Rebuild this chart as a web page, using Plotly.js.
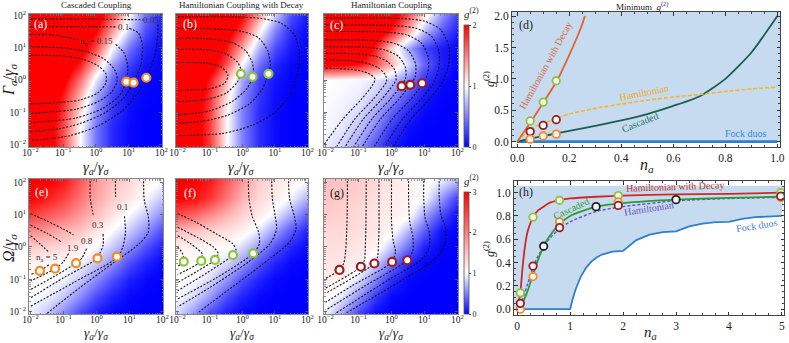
<!DOCTYPE html>
<html>
<head>
<meta charset="utf-8">
<script src="https://cdn.plot.ly/plotly-3.0.1.min.js"></script>
<style>body{margin:0;background:#fff}#fig{width:789px;height:343px}</style>
</head>
<body>
<div id="fig"></div>
<script>
// ---- data (map coordinates are log10 of gamma_a/gamma_sigma and P/gamma_sigma, Omega/gamma_sigma) ----
const gridLog = [-2, -1.5, -1, -0.5, 0, 0.5, 1, 1.5, 2];

// g2 maps, rows from 10^-2 (bottom) to 10^2 (top)
const zCascadedP = [
  [2.4, 2.2, 1.7, 1.0, 0.45, 0.15, 0.03, 0, 0],
  [2.4, 2.2, 1.7, 1.0, 0.45, 0.15, 0.03, 0, 0],
  [2.4, 2.25, 1.8, 1.15, 0.55, 0.2, 0.05, 0, 0],
  [2.4, 2.3, 1.9, 1.3, 0.65, 0.25, 0.07, 0.01, 0],
  [2.4, 2.4, 2.1, 1.55, 0.9, 0.4, 0.12, 0.02, 0],
  [2.4, 2.4, 2.3, 1.9, 1.3, 0.65, 0.25, 0.07, 0.01],
  [2.4, 2.4, 2.4, 2.2, 1.7, 1.0, 0.45, 0.15, 0.03],
  [2.4, 2.4, 2.4, 2.3, 2.0, 1.4, 0.8, 0.3, 0.1],
  [2.4, 2.4, 2.4, 2.4, 2.2, 1.7, 1.0, 0.45, 0.15]
];
const zDecayP = [
  [2.4, 2.2, 1.75, 1.05, 0.5, 0.17, 0.04, 0, 0],
  [2.4, 2.2, 1.75, 1.05, 0.5, 0.17, 0.04, 0, 0],
  [2.4, 2.2, 1.75, 1.05, 0.5, 0.17, 0.04, 0, 0],
  [2.4, 2.25, 1.8, 1.15, 0.55, 0.2, 0.05, 0, 0],
  [2.4, 2.3, 1.9, 1.3, 0.65, 0.25, 0.07, 0.01, 0],
  [2.4, 2.4, 2.2, 1.7, 1.0, 0.45, 0.15, 0.03, 0],
  [2.4, 2.4, 2.3, 1.95, 1.35, 0.7, 0.3, 0.09, 0.015],
  [2.4, 2.4, 2.4, 2.2, 1.75, 1.05, 0.5, 0.17, 0.04],
  [2.4, 2.4, 2.4, 2.3, 2.0, 1.4, 0.8, 0.3, 0.1]
];
const zHamP = [
  [0.93, 0.82, 0.62, 0.32, 0.1, 0.01, 0, 0, 0],
  [0.97, 0.9, 0.75, 0.5, 0.2, 0.05, 0, 0, 0],
  [0.98, 0.94, 0.85, 0.65, 0.38, 0.14, 0.03, 0, 0],
  [0.99, 0.97, 0.92, 0.8, 0.58, 0.3, 0.09, 0.01, 0],
  [1.0, 0.99, 0.97, 0.9, 0.75, 0.5, 0.2, 0.05, 0],
  [2.1, 2.05, 1.95, 1.7, 1.3, 0.85, 0.4, 0.12, 0.02],
  [2.4, 2.4, 2.3, 1.9, 1.2, 0.65, 0.28, 0.1, 0.03],
  [2.4, 2.4, 2.4, 2.3, 1.9, 1.35, 0.75, 0.35, 0.12],
  [2.4, 2.4, 2.4, 2.4, 2.2, 1.7, 1.1, 0.6, 0.25]
];
const zCascadedO = [
  [0.95, 0.78, 0.55, 0.3, 0.12, 0.03, 0, 0, 0],
  [1.0, 0.95, 0.78, 0.55, 0.3, 0.12, 0.03, 0, 0],
  [1.05, 1.0, 0.95, 0.78, 0.55, 0.3, 0.12, 0.03, 0],
  [1.1, 1.05, 1.0, 0.95, 0.78, 0.55, 0.3, 0.12, 0.03],
  [1.4, 1.35, 1.3, 1.15, 0.97, 0.78, 0.55, 0.3, 0.12],
  [1.9, 1.8, 1.6, 1.45, 1.2, 0.97, 0.78, 0.55, 0.3],
  [2.5, 2.3, 2.1, 1.8, 1.5, 1.2, 0.97, 0.78, 0.55],
  [3.0, 2.8, 2.5, 2.1, 1.7, 1.4, 1.2, 0.97, 0.78],
  [3.0, 3.0, 2.8, 2.3, 1.8, 1.5, 1.3, 1.1, 0.97]
];
const zDecayO = [
  [0.85, 0.6, 0.31, 0.13, 0.03, 0, 0, 0, 0],
  [1.0, 0.85, 0.6, 0.31, 0.13, 0.03, 0, 0, 0],
  [1.0, 1.0, 0.85, 0.6, 0.31, 0.13, 0.03, 0, 0],
  [1.0, 1.0, 1.0, 0.85, 0.6, 0.31, 0.13, 0.03, 0],
  [1.1, 1.1, 1.05, 1.02, 0.85, 0.6, 0.31, 0.13, 0.03],
  [1.5, 1.45, 1.35, 1.25, 1.1, 0.88, 0.61, 0.33, 0.14],
  [2.4, 2.2, 1.9, 1.6, 1.35, 1.15, 0.91, 0.65, 0.37],
  [3.0, 2.9, 2.6, 2.1, 1.6, 1.3, 1.15, 0.95, 0.7],
  [3.0, 3.0, 2.8, 2.3, 1.8, 1.4, 1.2, 1.1, 0.97]
];
const zHamO = [
  [0.97, 0.65, 0.28, 0.05, 0, 0, 0, 0, 0],
  [1.05, 0.9, 0.57, 0.22, 0.03, 0, 0, 0, 0],
  [1.15, 1.1, 0.87, 0.53, 0.18, 0.03, 0, 0, 0],
  [1.2, 1.2, 1.1, 0.82, 0.46, 0.13, 0.02, 0, 0],
  [1.25, 1.25, 1.2, 1.1, 0.78, 0.43, 0.12, 0.01, 0],
  [1.3, 1.3, 1.25, 1.2, 1.05, 0.71, 0.36, 0.06, 0],
  [1.4, 1.35, 1.3, 1.2, 1.15, 1.05, 0.64, 0.29, 0.05],
  [1.45, 1.4, 1.35, 1.25, 1.15, 1.1, 1.0, 0.6, 0.25],
  [1.5, 1.45, 1.4, 1.3, 1.2, 1.1, 1.05, 0.9, 0.7]
];

// n_a contour lines [log10 x, log10 y], null = gap for a label
const contoursA = [
  [[-2,1.89],[-1,1.89],[0,1.88],[0.8,1.87],[1.45,1.86],null,[1.9,1.72],[1.88,1.3],[1.8,0.75],[1.54,0.07],[1.25,-0.45],[0.8,-0.95],[0.1,-1.4],[-0.8,-1.72],[-2,-1.87]],
  [[-2,1.65],[-1,1.65],[0,1.65],[0.65,1.64],null,[1.02,1.6],[1.3,1.45],[1.42,1.1],[1.38,0.5],[1.15,-0.08],[0.85,-0.55],[0.3,-1.0],[-0.5,-1.35],[-1.2,-1.52],[-2,-1.6]],
  [[-2,1.41],[-1.2,1.38],[-0.55,1.25],null,[0.6,1.1],[0.85,0.85],[0.97,0.45],[0.93,-0.05],[0.7,-0.5],[0.2,-0.88],[-0.6,-1.17],[-2,-1.32]],
  [[-2,1.03],[-1,0.99],[-0.3,0.88],[0.25,0.65],[0.58,0.3],[0.65,0.0],[0.5,-0.35],[0.1,-0.65],[-0.6,-0.9],[-2,-1.03]],
  [[-2,0.77],[-1,0.74],[-0.4,0.64],[0.05,0.45],[0.3,0.2],[0.3,-0.1],[0.05,-0.4],[-0.5,-0.62],[-2,-0.74]]
];
const contoursB = [
  [[-2,1.95],[-0.5,1.95],[0.6,1.9],[1.2,1.75],[1.6,1.4],[1.75,0.9],[1.72,0.3],[1.5,-0.4],[1.0,-1.0],[0.3,-1.4],[-0.6,-1.65],[-2,-1.72]],
  [[-2,1.6],[-0.8,1.58],[0,1.5],[0.5,1.3],[0.78,0.9],[0.86,0.45],[0.8,0.19],[0.6,-0.3],[0.2,-0.75],[-0.5,-1.1],[-1.2,-1.27],[-2,-1.34]],
  [[-2,1.29],[-1,1.27],[-0.3,1.15],[0.1,0.9],[0.3,0.55],[0.34,0.25],[0.31,0.1],[0.15,-0.25],[-0.3,-0.65],[-1.0,-0.95],[-2,-1.08]],
  [[-2,0.95],[-1,0.93],[-0.5,0.8],[-0.15,0.55],[-0.04,0.3],[-0.05,0.19],[-0.15,-0.05],[-0.5,-0.4],[-1.1,-0.6],[-2,-0.67]],
  [[-2,0.54],[-1.1,0.52],[-0.65,0.4],[-0.45,0.15],[-0.55,-0.1],[-1.0,-0.27],[-2,-0.31]]
];
const contoursC = [
  [[-2,1.91],[0.3,1.9],[1.0,1.82],[1.5,1.55],[1.75,1.0],[1.72,0.4],[1.5,-0.15],[1.15,-0.6],[0.6,-1.2],[0.05,-2.05]],
  [[-2,1.7],[0.1,1.68],[0.75,1.6],[1.22,1.35],[1.45,0.85],[1.42,0.3],[1.24,-0.15],[0.89,-0.6],[0.34,-1.2],[-0.21,-2.05]],
  [[-2,1.5],[-0.2,1.48],[0.45,1.4],[0.9,1.15],[1.12,0.7],[1.1,0.2],[0.93,-0.15],[0.58,-0.6],[0.03,-1.2],[-0.52,-2.05]],
  [[-2,1.24],[-0.5,1.22],[0.1,1.13],[0.52,0.9],[0.73,0.5],[0.72,0.1],[0.57,-0.15],[0.22,-0.6],[-0.33,-1.2],[-0.88,-2.05]],
  [[-2,1.03],[-0.8,1.01],[-0.2,0.93],[0.22,0.72],[0.42,0.4],[0.43,0.05],[0.31,-0.15],[-0.04,-0.6],[-0.59,-1.2],[-1.14,-2.05]],
  [[-2,0.83],[-1.1,0.81],[-0.5,0.74],[-0.1,0.55],[0.1,0.3],[0.14,0.0],[0.05,-0.15],[-0.3,-0.6],[-0.85,-1.2],[-1.4,-2.05]],
  [[-2,0.62],[-1.3,0.6],[-0.8,0.53],[-0.4,0.38],[-0.18,0.15],[-0.15,-0.05],[-0.21,-0.15],[-0.56,-0.6],[-1.11,-1.2],[-1.66,-2.05]],
  [[-2,0.36],[-1.5,0.35],[-1.0,0.3],[-0.65,0.18],[-0.5,0.03],[-0.57,-0.15],[-0.92,-0.6],[-1.47,-1.2],[-2.05,-2.0]]
];
const contoursE = [
  [[1.43,2.15],[1.45,1.45],[1.58,0.9],[1.57,0.45],[1.3,0.1],[0.5,-0.5],[-0.5,-1.25],[-1.5,-2.05]],
  [[0.57,2.15],[0.58,1.55],null,[0.85,0.95],[0.88,0.45],[0.8,0.0],[0.64,-0.32],[-0.7,-1.1],[-2,-1.83]],
  [[-0.19,2.15],[-0.19,1.5],[-0.1,1.0],null,[0.2,0.4],[0.2,0.05],[0.1,-0.2],[0.03,-0.35],[-1,-0.95],[-2,-1.57]],
  [[-2,1.03],[-1.5,0.8],[-1.0,0.55],[-0.7,0.38],null,[-0.3,-0.05],[-0.45,-0.35],[-0.62,-0.5],[-1.3,-0.92],[-2,-1.31]],
  [[-2,0.67],[-1.5,0.42],[-1.05,0.15],null,[-0.85,-0.2],[-1.0,-0.45],[-1.26,-0.67],[-2,-1.05]],
  [[-2,0.35],[-1.7,0.08],[-1.45,-0.15],null,[-1.45,-0.55],[-1.72,-0.74],[-2,-0.85]]
];
const contoursF = [
  [[1.42,2.15],[1.45,1.5],[1.6,0.95],[1.65,0.55],[1.45,0.15],[0.6,-0.55],[-0.6,-1.45],[-1.4,-2.05]],
  [[0.9,2.15],[0.92,1.5],[1.0,1.0],[1.05,0.55],[0.85,0.1],[0.2,-0.45],[-1.0,-1.25],[-2,-1.85]],
  [[0.18,2.15],[0.2,1.5],[0.3,0.95],[0.5,0.45],[0.52,0.1],[0.33,-0.2],[-0.8,-0.95],[-2,-1.6]],
  [[-2,1.03],[-1.4,0.75],[-0.8,0.4],[-0.3,0.1],[-0.2,-0.1],[-0.29,-0.25],[-1.1,-0.8],[-2,-1.35]],
  [[-2,0.61],[-1.4,0.3],[-0.9,0.0],[-0.75,-0.2],[-0.85,-0.4],[-1.4,-0.75],[-2,-1.1]],
  [[-2,0.35],[-1.6,0.1],[-1.25,-0.2],[-1.27,-0.43],[-1.6,-0.65],[-2,-0.85]],
  [[-2,0.0],[-1.85,-0.2],[-1.81,-0.45],[-2,-0.6]]
];
const contoursG = [
  [[-1.34,2.15],[-1.34,1.5],[-1.36,0.5],[-1.4,-0.2],[-1.45,-0.5],[-1.58,-0.71],[-2,-0.97]],
  [[-0.77,2.15],[-0.77,1.5],[-0.78,0.5],[-0.8,-0.1],[-0.82,-0.4],[-0.93,-0.61],[-2,-1.27]],
  [[-0.38,2.15],[-0.38,1.5],[-0.38,0.5],[-0.4,0.0],[-0.42,-0.3],[-0.52,-0.51],[-2,-1.43]],
  [[0,2.15],[0,1.5],[0.0,0.8],[0.05,0.2],[0.12,-0.15],[0.02,-0.46],[-1.2,-1.2],[-2,-1.71]],
  [[0.52,2.15],[0.52,1.5],[0.55,0.8],[0.65,0.3],[0.65,-0.1],[0.48,-0.41],[-0.8,-1.2],[-2,-1.95]],
  [[0.98,2.15],[0.98,1.5],[1.02,0.9],[1.15,0.45],[1.15,0.0],[0.9,-0.4],[-0.1,-1.02],[-1.7,-2.05]],
  [[1.45,2.15],[1.45,1.5],[1.5,1.0],[1.65,0.55],[1.62,0.1],[1.35,-0.35],[0.45,-0.95],[-1.4,-2.05]]
];

// optimum points on the maps
const markA = [[0.93,-0.05],[1.15,-0.08],[1.54,0.07]];
const markB = [[-0.05,0.19],[0.31,0.1],[0.8,0.19]];
const markC = [[0.31,-0.19],[0.57,-0.15],[0.93,-0.1]];
const markE = [[-1.72,-0.74],[-1.26,-0.67],[-0.62,-0.5],[0.03,-0.35],[0.62,-0.3]];
const markF = [[-1.81,-0.45],[-1.27,-0.43],[-0.85,-0.4],[-0.29,-0.25],[0.33,-0.2]];
const markG = [[-1.58,-0.71],[-0.93,-0.61],[-0.52,-0.51],[0.02,-0.46],[0.48,-0.41]];

// panel (d): minimum g2 versus n_a
const nD = [0, 0.05, 0.1, 0.15, 0.2, 0.3, 0.4, 0.5, 0.6, 0.7, 0.8, 0.9, 1.0];
const cascadedD = [0, 0.05, 0.09, 0.13, 0.17, 0.25, 0.34, 0.44, 0.57, 0.72, 1.0, 1.42, 2.0];
const hamiltonianD = [0, 0.2, 0.29, 0.37, 0.44, 0.53, 0.6, 0.66, 0.71, 0.75, 0.8, 0.84, 0.87];
const nDecayD = [0, 0.05, 0.1, 0.15, 0.2, 0.25, 0.26];
const decayD = [0, 0.3, 0.62, 0.95, 1.38, 1.87, 2.0];
const fockDN = [0, 1];
const fockDG = [0, 0];
const markDN = [0.05, 0.1, 0.15];
const markDGreen = [0.33, 0.63, 0.97];
const markDRed = [0.16, 0.26, 0.35];
const markDOrange = [0.04, 0.09, 0.12];

// panel (h)
const nH = [0, 0.03, 0.06, 0.1, 0.15, 0.2, 0.3, 0.4, 0.5, 0.6, 0.8, 1.0, 1.5, 2, 3, 4, 5];
const decayH = [0, 0.06, 0.14, 0.35, 0.55, 0.67, 0.79, 0.85, 0.88, 0.91, 0.935, 0.95, 0.965, 0.975, 0.985, 0.99, 1.0];
const cascadedH = [0, 0, 0.01, 0.05, 0.1, 0.16, 0.3, 0.43, 0.54, 0.62, 0.73, 0.8, 0.88, 0.91, 0.94, 0.955, 0.965];
const hamiltonianH = [0, 0.01, 0.03, 0.08, 0.15, 0.22, 0.36, 0.46, 0.53, 0.6, 0.69, 0.75, 0.84, 0.88, 0.93, 0.95, 0.96];
const fockHN = [0, 1.0, 1.05, 1.1, 1.2, 1.3, 1.4, 1.5, 1.6, 1.8, 2.0, 2.25, 2.5, 2.75, 3.0, 3.25, 3.5, 3.75, 4.0, 4.25, 4.5, 4.75, 5.0];
const fockHG = [0, 0, 0.09, 0.165, 0.278, 0.355, 0.408, 0.444, 0.469, 0.494, 0.5, 0.593, 0.64, 0.661, 0.667, 0.71, 0.735, 0.747, 0.75, 0.775, 0.79, 0.798, 0.8];
const markHN = [0.06, 0.3, 0.8, 1.91, 4.98];
const markHGreen = [0.14, 0.79, 0.935, 0.975, 1.0];
const markHRed = [0.05, 0.37, 0.7, 0.89, 0.97];
const markHOrange = [0.0, 0.28, 0.75, 0.92, 0.96];
const markHBlackN = [0.5, 1.49, 3.0];
const markHBlack = [0.54, 0.88, 0.94];

// ---- styling ----
const W = 789, H = 343;
const SERIF = 'Liberation Serif, Times New Roman, serif';
const ORANGE = '#f28a26', GREEN = '#8cc43c', DARKRED = '#9b1c1c';
const decadeText = ['10<sup>\u22122</sup>', '10<sup>\u22121</sup>', '10<sup>0</sup>', '10<sup>1</sup>', '10<sup>2</sup>'];
const minorLog = [];
for (let d = -3; d <= 2; d++) {
  for (let k = 2; k <= 9; k++) minorLog.push(d + Math.log10(k));
}

function px2x(a, b) { return [a / W, b / W]; }
function px2y(top, bottom) { return [1 - bottom / H, 1 - top / H]; }

function mapAxis(domain, range, anchor, labels, standoff) {
  return {
    domain: domain, range: range, anchor: anchor,
    tickmode: 'array', tickvals: [-2, -1, 0, 1, 2], ticktext: decadeText,
    showticklabels: labels, ticks: 'inside', ticklen: 3, tickwidth: 0.8, tickcolor: '#555',
    ticklabelstandoff: standoff || 0,
    showline: true, linecolor: '#888', linewidth: 1, mirror: 'ticks',
    showgrid: false, zeroline: false,
    tickfont: { family: SERIF, size: 9.5, color: '#222' },
    minor: { tickmode: 'array', tickvals: minorLog, ticks: 'inside', ticklen: 1.5, tickcolor: '#777', showgrid: false }
  };
}
function plotAxis(domain, range, anchor, dtick, fmt, minor) {
  return {
    domain: domain, range: range, anchor: anchor, dtick: dtick, tick0: 0, tickformat: fmt,
    ticks: 'inside', ticklen: 3.5, tickcolor: '#333', showline: true, linecolor: '#444', linewidth: 1,
    mirror: 'ticks', showgrid: false, zeroline: false,
    tickfont: { family: SERIF, size: 11.5, color: '#222' },
    minor: { dtick: minor, ticks: 'inside', ticklen: 2, tickcolor: '#444', showgrid: false }
  };
}

const traces = [];
function lineTrace(pts, ax) {
  return {
    type: 'scatter', mode: 'lines', xaxis: 'x' + ax, yaxis: 'y' + ax, hoverinfo: 'skip',
    x: pts.map(p => p ? p[0] : null), y: pts.map(p => p ? p[1] : null), connectgaps: false,
    line: { color: '#111', width: 1.1, dash: '2px,1.6px', shape: 'spline', smoothing: 0.7 }
  };
}
function addMap(z, ax, caxis, contours, marks, col) {
  traces.push({ type: 'heatmap', x: gridLog, y: gridLog, z: z, zsmooth: 'best', coloraxis: caxis,
    xaxis: 'x' + ax, yaxis: 'y' + ax, hoverinfo: 'skip' });
  contours.forEach(c => traces.push(lineTrace(c, ax)));
  traces.push({ type: 'scatter', mode: 'markers', xaxis: 'x' + ax, yaxis: 'y' + ax, hoverinfo: 'skip',
    x: marks.map(p => p[0]), y: marks.map(p => p[1]),
    marker: { symbol: 'circle', size: 8, color: 'white', line: { color: col, width: 2.2 } } });
}
addMap(zCascadedP, '', 'coloraxis', contoursA, markA, ORANGE);
addMap(zDecayP, '2', 'coloraxis', contoursB, markB, GREEN);
addMap(zHamP, '3', 'coloraxis', contoursC, markC, DARKRED);
addMap(zCascadedO, '5', 'coloraxis2', contoursE, markE, ORANGE);
addMap(zDecayO, '6', 'coloraxis2', contoursF, markF, GREEN);
addMap(zHamO, '7', 'coloraxis2', contoursG, markG, DARKRED);

function curve(x, y, ax, color, width, dash, spline) {
  return { type: 'scatter', mode: 'lines', x: x, y: y, xaxis: 'x' + ax, yaxis: 'y' + ax, hoverinfo: 'skip',
    line: { color: color, width: width, dash: dash || 'solid', shape: spline ? 'spline' : 'linear', smoothing: 0.6 } };
}
function openMarks(x, y, ax, color) {
  return { type: 'scatter', mode: 'markers', x: x, y: y, xaxis: 'x' + ax, yaxis: 'y' + ax, hoverinfo: 'skip',
    marker: { symbol: 'circle', size: 7.5, color: 'rgba(255,255,255,0.9)', line: { color: color, width: 1.8 } } };
}

// (d)
traces.push(curve(fockDN, fockDG, '4', '#2f7fd0', 2.6));
traces.push(curve(nD, cascadedD, '4', '#1d5e50', 1.8, 'solid', true));
traces.push(curve(nD, hamiltonianD, '4', '#f7b52c', 1.6, '4px,2px', true));
traces.push(curve(nDecayD, decayD, '4', '#e0652c', 1.8, 'solid', true));
traces.push(openMarks(markDN, markDGreen, '4', GREEN));
traces.push(openMarks(markDN, markDRed, '4', DARKRED));
traces.push(openMarks(markDN, markDOrange, '4', ORANGE));

// (h)
traces.push({ type: 'scatter', mode: 'lines', xaxis: 'x8', yaxis: 'y8', hoverinfo: 'skip',
  x: fockHN.concat([5.04, -0.06, -0.06]), y: fockHG.concat([1.06, 1.06, 0]),
  fill: 'toself', fillcolor: '#c6dbef', line: { width: 0 } });
traces.push(curve(fockHN, fockHG, '8', '#2f7fd0', 1.8));
traces.push(curve(nH, decayH, '8', '#cc2a22', 1.8, 'solid', true));
traces.push(curve(nH, hamiltonianH, '8', '#6a4fd0', 1.5, '3px,2px', true));
traces.push(curve(nH, cascadedH, '8', '#2e9a35', 1.8, 'solid', true));
traces.push(openMarks(markHN, markHGreen, '8', GREEN));
traces.push(openMarks(markHN, markHOrange, '8', ORANGE));
traces.push(openMarks(markHN, markHRed, '8', DARKRED));
traces.push(openMarks(markHBlackN, markHBlack, '8', '#222'));

// ---- annotations ----
const anns = [];
function paperText(text, px, py, size, opts) {
  anns.push(Object.assign({ text: text, x: px / W, y: 1 - py / H, xref: 'paper', yref: 'paper',
    showarrow: false, xanchor: 'center', yanchor: 'middle', borderpad: 0,
    font: { family: SERIF, size: size, color: '#222' } }, opts || {}));
}
function dataText(text, ax, x, y, size, color, angle) {
  anns.push({ text: text, x: x, y: y, xref: 'x' + ax, yref: 'y' + ax, showarrow: false,
    xanchor: 'center', yanchor: 'middle', textangle: angle || 0,
    font: { family: SERIF, size: size, color: color } });
}
const xTitle = '<i>\u03b3<sub>a</sub></i>/<i>\u03b3<sub>\u03c3</sub></i>';
paperText('Cascaded Coupling', 96, 5, 9);
paperText('Hamiltonian Coupling with Decay', 242, 5, 9);
paperText('Hamiltonian Coupling', 391, 5, 9);
paperText('Minimum  <i>g</i><sup>(2)</sup>', 642, 6, 9);
[96, 242, 391].forEach(px => {
  paperText(xTitle, px, 168, 14.5);
  paperText(xTitle, px, 342.5, 13.5, { yanchor: 'bottom' });
});
paperText('<i>\u0393<sub>\u03c3</sub></i>/<i>\u03b3<sub>\u03c3</sub></i>', 9, 80, 16, { textangle: -90 });
paperText('<i>\u03a9</i>/<i>\u03b3<sub>\u03c3</sub></i>', 9, 248, 16, { textangle: -90 });
paperText('<i>g</i><sup>(2)</sup>', 489, 79, 12, { textangle: -90 });
paperText('<i>g</i><sup>(2)</sup>', 489, 249, 12, { textangle: -90 });
paperText('<i>n<sub>a</sub></i>', 647, 165, 16);
paperText('<i>n<sub>a</sub></i>', 650, 342.5, 15, { yanchor: 'bottom' });
paperText('<i>g</i><sup>(2)</sup>', 471, 13, 11);
paperText('<i>g</i><sup>(2)</sup>', 471, 180, 11);
paperText('(a)', 40, 24, 12, { font: { family: SERIF, size: 12, color: '#fff' } });
paperText('(b)', 190, 24, 12, { font: { family: SERIF, size: 12, color: '#fff' } });
paperText('(c)', 336, 25, 12, { font: { family: SERIF, size: 12, color: '#fff' } });
paperText('(d)', 526, 25, 12);
paperText('(e)', 41, 192, 12, { font: { family: SERIF, size: 12, color: '#fff' } });
paperText('(f)', 190, 193, 12, { font: { family: SERIF, size: 12, color: '#fff' } });
paperText('(g)', 337, 193, 12);
paperText('(h)', 526, 192, 12);

dataText('0.05', '', 1.69, 1.87, 9, '#333');
dataText('0.1', '', 0.84, 1.64, 9, '#333');
dataText('n<sub>a</sub> = 0.15', '', 0.03, 1.19, 9, '#333');
dataText('0.1', '5', 0.79, 1.24, 9, '#333');
dataText('0.3', '5', 0.05, 0.67, 9, '#333');
dataText('0.8', '5', -0.29, 0.2, 9, '#333');
dataText('1.9', '5', -0.71, -0.03, 9, '#333');
dataText('n<sub>a</sub> = 5', '5', -1.51, -0.34, 9, '#333');

dataText('Hamiltonian with Decay', '4', 0.108, 1.22, 10, '#d8673c', -61);
dataText('Hamiltonian', '4', 0.487, 0.78, 10, '#eeaa22', -11);
dataText('Cascaded', '4', 0.47, 0.3, 10, '#2a7466', -22);
dataText('Fock duos', '4', 0.879, 0.13, 10, '#3a86d8', 0);
dataText('Hamiltonian with Decay', '8', 2.98, 1.05, 10, '#c0302a', -2);
dataText('Cascaded', '8', 1.02, 0.865, 10, '#3a9a3a', -25);
dataText('Hamiltonian', '8', 2.49, 0.86, 10, '#6a50c8', -9);
dataText('Fock duos', '8', 4.53, 0.72, 10, '#3a80d0', -9);

function colorbar(bottomPx, topPx, ticks) {
  return {
    x: 464 / W, xanchor: 'left', y: 1 - bottomPx / H, yanchor: 'bottom',
    len: (bottomPx - topPx) / H, lenmode: 'fraction', thickness: 5, thicknessmode: 'pixels',
    xpad: 0, ypad: 0, outlinewidth: 0.8, outlinecolor: '#555',
    tickmode: 'array', tickvals: ticks, ticks: 'outside', ticklen: 2, tickcolor: '#555',
    tickfont: { family: SERIF, size: 8, color: '#222' }
  };
}

const layout = {
  width: W, height: H, margin: { l: 0, r: 0, t: 0, b: 0 },
  paper_bgcolor: '#fff', plot_bgcolor: '#fff', showlegend: false,
  font: { family: SERIF, size: 10, color: '#222' },
  coloraxis: { cmin: 0, cmax: 2, colorscale: [[0, '#0000ff'], [0.5, '#ffffff'], [1, '#ff0000']],
    colorbar: colorbar(147, 25, [0, 1, 2]) },
  coloraxis2: { cmin: 0, cmax: 3, colorscale: [[0, '#0000ff'], [1 / 3, '#ffffff'], [1, '#ff0000']],
    colorbar: colorbar(314, 192, [0, 1, 2, 3]) },
  xaxis: mapAxis(px2x(29, 162), [-2.05, 2.02], 'y', true, -3),
  yaxis: mapAxis(px2y(14, 147), [-2.07, 2.04], 'x', true),
  xaxis2: mapAxis(px2x(176, 308), [-2.05, 2.02], 'y2', true, -3),
  yaxis2: mapAxis(px2y(14, 147), [-2.07, 2.04], 'x2', false),
  xaxis3: mapAxis(px2x(324, 458), [-2.05, 2.02], 'y3', true, -3),
  yaxis3: mapAxis(px2y(14, 147), [-2.07, 2.04], 'x3', false),
  xaxis4: plotAxis(px2x(512, 780), [-0.02, 1.01], 'y4', 0.2, '.1f', 0.05),
  yaxis4: plotAxis(px2y(12, 147), [-0.085, 2.065], 'x4', 0.5, '.1f', 0.1),
  xaxis5: mapAxis(px2x(29, 163), [-2.05, 2.02], 'y5', true, -3),
  yaxis5: mapAxis(px2y(179, 314), [-2.07, 2.1], 'x5', true),
  xaxis6: mapAxis(px2x(176, 308), [-2.05, 2.02], 'y6', true, -3),
  yaxis6: mapAxis(px2y(179, 314), [-2.07, 2.1], 'x6', false),
  xaxis7: mapAxis(px2x(324, 458), [-2.05, 2.02], 'y7', true, -3),
  yaxis7: mapAxis(px2y(179, 314), [-2.07, 2.1], 'x7', false),
  xaxis8: plotAxis(px2x(514, 784), [-0.06, 5.04], 'y8', 1, 'd', 0.25),
  yaxis8: plotAxis(px2y(181, 315), [-0.05, 1.1], 'x8', 0.2, '.1f', 0.05),
  shapes: [
    { type: 'rect', xref: 'x4 domain', yref: 'y4', x0: 0, x1: 1, y0: 0, y1: 2.065,
      fillcolor: '#c6dbef', line: { width: 0 }, layer: 'below' },
    { type: 'line', xref: 'x8 domain', yref: 'y8', x0: 0, x1: 1, y0: 1, y1: 1,
      line: { color: '#aaaaaa', width: 1 }, layer: 'below' }
  ],
  annotations: anns
};

Plotly.newPlot('fig', traces, layout, { displayModeBar: false, staticPlot: true });
</script>
</body>
</html>
